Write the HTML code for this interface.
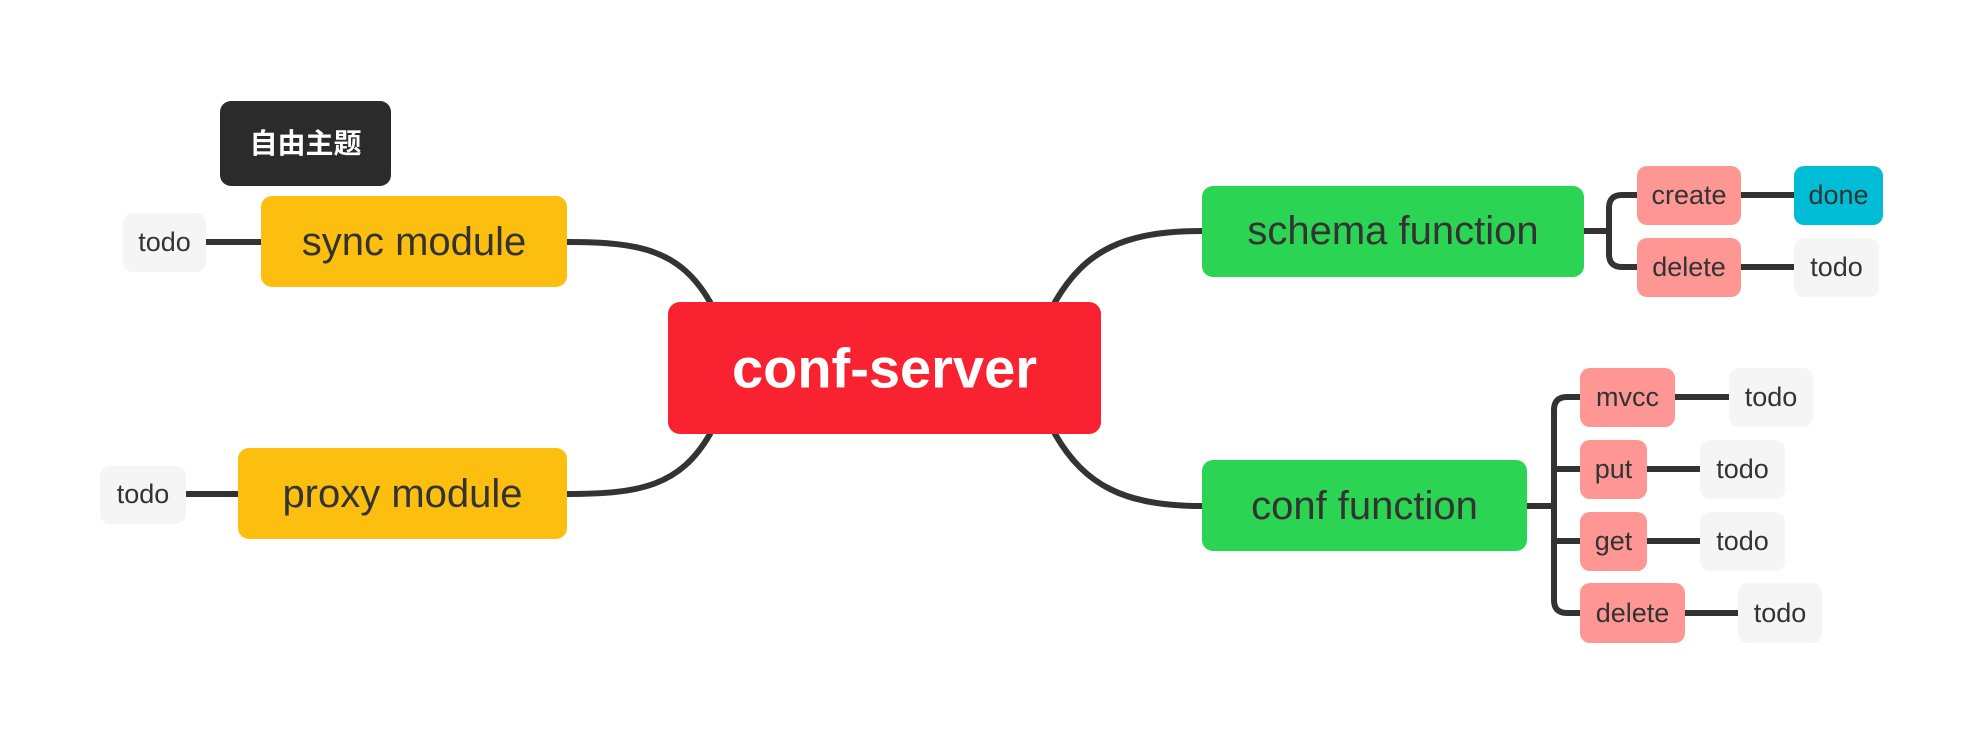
<!DOCTYPE html>
<html><head><meta charset="utf-8"><style>
html,body{margin:0;padding:0;background:#fff;}
svg{display:block}
text{font-family:"Liberation Sans","Noto Sans CJK SC",sans-serif;dominant-baseline:central;text-anchor:middle;fill:#333}
</style></head><body>
<svg width="1984" height="744" viewBox="0 0 1984 744" xmlns="http://www.w3.org/2000/svg">
<g fill="none" stroke="#333" stroke-width="6" stroke-linecap="round">
  <path d="M710 302 C680 250 640 242 567 242"/>
  <path d="M710 434 C680 486 640 494 567 494"/>
  <path d="M1055 302 C1085 250 1125 231 1202 231"/>
  <path d="M1055 434 C1085 486 1125 506 1202 506"/>
  <path d="M206 242 L261 242"/>
  <path d="M186 494 L238 494"/>
  <path d="M1584 231 L1609 231"/>
  <path d="M1637 195 L1622 195 Q1609 195 1609 208 L1609 254 Q1609 267 1622 267 L1637 267"/>
  <path d="M1741 195 L1794 195"/>
  <path d="M1741 267 L1794 267"/>
  <path d="M1527 506 L1554 506"/>
  <path d="M1580 397 L1567 397 Q1554 397 1554 410 L1554 600 Q1554 613 1567 613 L1580 613"/>
  <path d="M1554 469 Q1554 469 1580 469"/>
  <path d="M1554 541 L1580 541"/>
  <path d="M1675 397 L1729 397"/>
  <path d="M1647 469 L1700 469"/>
  <path d="M1647 541 L1700 541"/>
  <path d="M1685 613 L1738 613"/>
</g>
<rect x="220" y="101" width="171" height="85" rx="11" fill="#2b2b2b"/>
<text x="305.5" y="143.5" font-size="28" font-weight="bold" style="fill:#fff">自由主题</text>
<rect x="261" y="196" width="306" height="91" rx="11" fill="#fdbf0f"/>
<text x="414" y="242" font-size="40">sync module</text>
<rect x="238" y="448" width="329" height="91" rx="11" fill="#fdbf0f"/>
<text x="402.5" y="494" font-size="40">proxy module</text>
<rect x="123" y="213" width="83" height="59" rx="10" fill="#f5f5f5"/>
<text x="164.5" y="242" font-size="27">todo</text>
<rect x="100" y="466" width="86" height="58" rx="10" fill="#f5f5f5"/>
<text x="143" y="494" font-size="27">todo</text>
<rect x="668" y="302" width="433" height="132" rx="12" fill="#f82231"/>
<text x="884.5" y="368" font-size="56" font-weight="bold" style="fill:#fff">conf-server</text>
<rect x="1202" y="186" width="382" height="91" rx="11" fill="#2cd453"/>
<text x="1393" y="231" font-size="40">schema function</text>
<rect x="1202" y="460" width="325" height="91" rx="11" fill="#2cd453"/>
<text x="1364.5" y="506" font-size="40">conf function</text>
<rect x="1637" y="166" width="104" height="59" rx="10" fill="#fe9693"/>
<text x="1689" y="195" font-size="27">create</text>
<rect x="1637" y="238" width="104" height="59" rx="10" fill="#fe9693"/>
<text x="1689" y="267" font-size="27">delete</text>
<rect x="1794" y="166" width="89" height="59" rx="10" fill="#00bcd4"/>
<text x="1838.5" y="195" font-size="27">done</text>
<rect x="1794" y="238" width="85" height="59" rx="10" fill="#f5f5f5"/>
<text x="1836.5" y="267" font-size="27">todo</text>
<rect x="1580" y="368" width="95" height="59" rx="10" fill="#fe9693"/>
<text x="1627.5" y="397" font-size="27">mvcc</text>
<rect x="1580" y="440" width="67" height="59" rx="10" fill="#fe9693"/>
<text x="1613.5" y="469" font-size="27">put</text>
<rect x="1580" y="512" width="67" height="59" rx="10" fill="#fe9693"/>
<text x="1613.5" y="541" font-size="27">get</text>
<rect x="1580" y="583" width="105" height="60" rx="10" fill="#fe9693"/>
<text x="1632.5" y="613" font-size="27">delete</text>
<rect x="1729" y="368" width="84" height="59" rx="10" fill="#f5f5f5"/>
<text x="1771" y="397" font-size="27">todo</text>
<rect x="1700" y="440" width="85" height="59" rx="10" fill="#f5f5f5"/>
<text x="1742.5" y="469" font-size="27">todo</text>
<rect x="1700" y="512" width="85" height="59" rx="10" fill="#f5f5f5"/>
<text x="1742.5" y="541" font-size="27">todo</text>
<rect x="1738" y="583" width="84" height="60" rx="10" fill="#f5f5f5"/>
<text x="1780" y="613" font-size="27">todo</text>
</svg>
</body></html>
